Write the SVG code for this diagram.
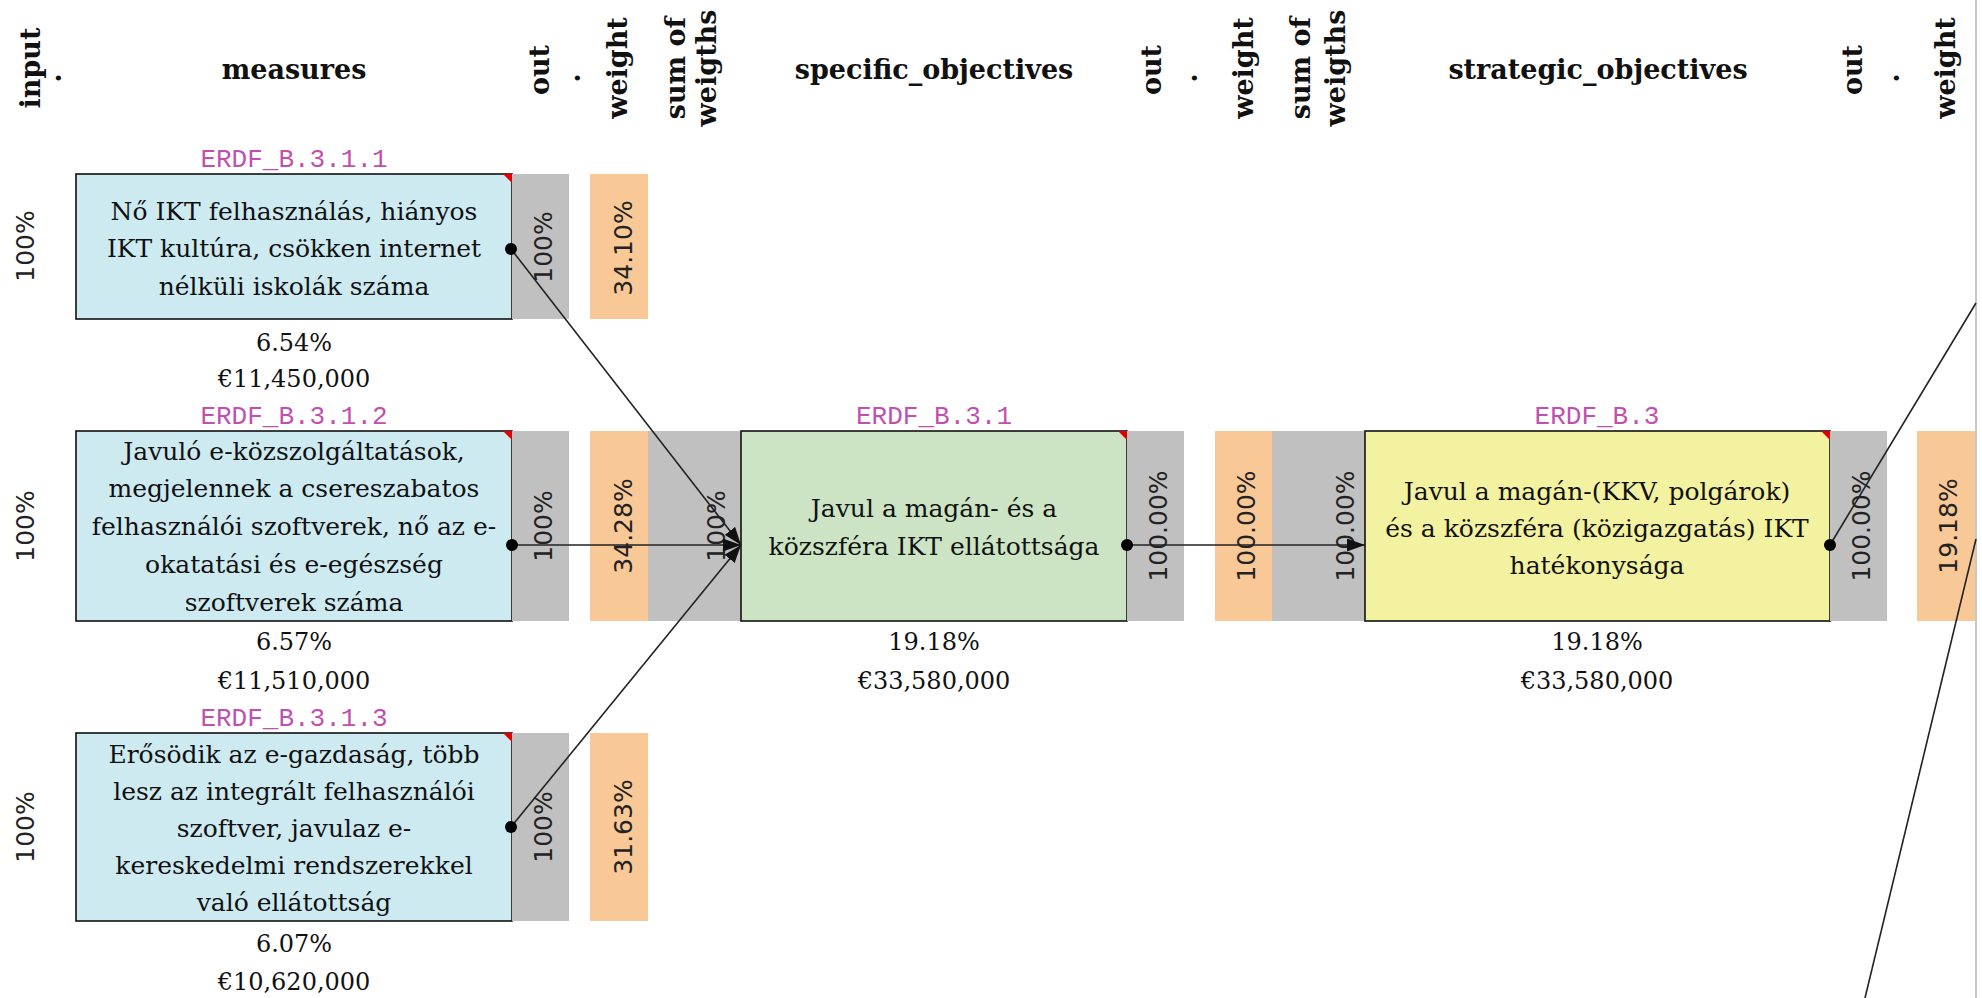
<svg xmlns="http://www.w3.org/2000/svg" width="1982" height="998" viewBox="0 0 1982 998">
<style>
.hdr{font-family:"DejaVu Serif",serif;font-weight:bold;font-size:27px;fill:#111;text-anchor:middle}
.lbl{font-family:"Liberation Mono",monospace;font-size:26px;fill:#c050b0;text-anchor:middle}
.txt{font-family:"DejaVu Serif",serif;font-size:25px;fill:#111;text-anchor:middle}
.val{font-family:"DejaVu Serif",serif;font-size:24px;fill:#111;text-anchor:middle}
.pct{font-family:"DejaVu Sans",sans-serif;font-size:25px;fill:#222;text-anchor:middle}
.gray{fill:#c0c0c0}
.orange{fill:#f8c896}
.box{stroke:#111;stroke-width:1.6}
.blue{fill:#ceeaf1}
.green{fill:#cce4c4}
.yellow{fill:#f2f2a0}
.corner{fill:#e00000}
.conn{stroke:#222;stroke-width:1.6;fill:none}
</style>
<defs>
<marker id="arr" viewBox="0 0 18 13" refX="18" refY="6.5" markerWidth="18" markerHeight="13" markerUnits="userSpaceOnUse" orient="auto">
<path d="M0,0 L18,6.5 L0,13 z" fill="#111"/>
</marker>
</defs>
<rect width="1982" height="998" fill="#ffffff"/>
<line x1="1976" y1="0" x2="1976" y2="998" stroke="#c8c8c8" stroke-width="2"/>

<g id="headers">
<text class="hdr" transform="translate(40,68) rotate(-90)">input</text>
<text class="hdr" transform="translate(61,78) rotate(-90)">.</text>
<text class="hdr" x="294" y="79">measures</text>
<text class="hdr" transform="translate(549,70) rotate(-90)">out</text>
<text class="hdr" transform="translate(580,78) rotate(-90)">.</text>
<text class="hdr" transform="translate(627,68) rotate(-90)">weight</text>
<text class="hdr" transform="translate(685,68) rotate(-90)">sum of</text>
<text class="hdr" transform="translate(716,68) rotate(-90)">weigths</text>
<text class="hdr" x="934" y="79">specific_objectives</text>
<text class="hdr" transform="translate(1161,70) rotate(-90)">out</text>
<text class="hdr" transform="translate(1197,78) rotate(-90)">.</text>
<text class="hdr" transform="translate(1253,68) rotate(-90)">weight</text>
<text class="hdr" transform="translate(1310,68) rotate(-90)">sum of</text>
<text class="hdr" transform="translate(1345,68) rotate(-90)">weigths</text>
<text class="hdr" x="1598" y="79">strategic_objectives</text>
<text class="hdr" transform="translate(1862,70) rotate(-90)">out</text>
<text class="hdr" transform="translate(1899,78) rotate(-90)">.</text>
<text class="hdr" transform="translate(1955,68) rotate(-90)">weight</text>
</g>

<g id="ERDF_B.3.1.1">
<text class="pct" transform="translate(34,246) rotate(-90)">100%</text>
<text class="lbl" x="294" y="167">ERDF_B.3.1.1</text>
<rect class="box blue" x="76" y="174" width="436" height="145"/>
<polygon class="corner" points="503,174 512,174 512,183"/>
<text class="txt" x="294" y="220">Nő IKT felhasználás, hiányos</text>
<text class="txt" x="294" y="257">IKT kultúra, csökken internet</text>
<text class="txt" x="294" y="295">nélküli iskolák száma</text>
<text class="val" x="294" y="351">6.54%</text>
<text class="val" x="294" y="387">€11,450,000</text>
<rect class="gray" x="512" y="174" width="57" height="145"/>
<text class="pct" transform="translate(552,247) rotate(-90)">100%</text>
<rect class="orange" x="590" y="174" width="58" height="145"/>
<text class="pct" transform="translate(632,248) rotate(-90)">34.10%</text>
</g>

<g id="ERDF_B.3.1.2">
<text class="pct" transform="translate(34,526) rotate(-90)">100%</text>
<text class="lbl" x="294" y="424">ERDF_B.3.1.2</text>
<rect class="box blue" x="76" y="431" width="436" height="190"/>
<polygon class="corner" points="503,431 512,431 512,440"/>
<text class="txt" x="294" y="460">Javuló e-közszolgáltatások,</text>
<text class="txt" x="294" y="497">megjelennek a csereszabatos</text>
<text class="txt" x="294" y="535">felhasználói szoftverek, nő az e-</text>
<text class="txt" x="294" y="573">okatatási és e-egészség</text>
<text class="txt" x="294" y="611">szoftverek száma</text>
<text class="val" x="294" y="650">6.57%</text>
<text class="val" x="294" y="689">€11,510,000</text>
<rect class="gray" x="512" y="431" width="57" height="190"/>
<text class="pct" transform="translate(552,526) rotate(-90)">100%</text>
<rect class="orange" x="590" y="431" width="58" height="190"/>
<text class="pct" transform="translate(632,526) rotate(-90)">34.28%</text>
</g>

<g id="ERDF_B.3.1.3">
<text class="pct" transform="translate(34,827) rotate(-90)">100%</text>
<text class="lbl" x="294" y="726">ERDF_B.3.1.3</text>
<rect class="box blue" x="76" y="733" width="436" height="188"/>
<polygon class="corner" points="503,733 512,733 512,742"/>
<text class="txt" x="294" y="763">Erősödik az e-gazdaság, több</text>
<text class="txt" x="294" y="800">lesz az integrált felhasználói</text>
<text class="txt" x="294" y="837">szoftver, javulaz e-</text>
<text class="txt" x="294" y="874">kereskedelmi rendszerekkel</text>
<text class="txt" x="294" y="911">való ellátottság</text>
<text class="val" x="294" y="952">6.07%</text>
<text class="val" x="294" y="990">€10,620,000</text>
<rect class="gray" x="512" y="733" width="57" height="188"/>
<text class="pct" transform="translate(552,827) rotate(-90)">100%</text>
<rect class="orange" x="590" y="733" width="58" height="188"/>
<text class="pct" transform="translate(632,827) rotate(-90)">31.63%</text>
</g>

<g id="ERDF_B.3.1">
<rect class="gray" x="648" y="431" width="93" height="190"/>
<text class="pct" transform="translate(725,526) rotate(-90)">100%</text>
<text class="lbl" x="934" y="424">ERDF_B.3.1</text>
<rect class="box green" x="741" y="431" width="386" height="190"/>
<polygon class="corner" points="1118,431 1127,431 1127,440"/>
<text class="txt" x="934" y="517">Javul a magán- és a</text>
<text class="txt" x="934" y="555">közszféra IKT ellátottsága</text>
<text class="val" x="934" y="650">19.18%</text>
<text class="val" x="934" y="689">€33,580,000</text>
<rect class="gray" x="1127" y="431" width="57" height="190"/>
<text class="pct" transform="translate(1167,526) rotate(-90)">100.00%</text>
<rect class="orange" x="1215" y="431" width="57" height="190"/>
<text class="pct" transform="translate(1255,526) rotate(-90)">100.00%</text>
</g>

<g id="ERDF_B.3">
<rect class="gray" x="1272" y="431" width="93" height="190"/>
<text class="pct" transform="translate(1354,526) rotate(-90)">100.00%</text>
<text class="lbl" x="1597" y="424">ERDF_B.3</text>
<rect class="box yellow" x="1365" y="431" width="465" height="190"/>
<polygon class="corner" points="1821,431 1830,431 1830,440"/>
<text class="txt" x="1597" y="500">Javul a magán-(KKV, polgárok)</text>
<text class="txt" x="1597" y="537">és a közszféra (közigazgatás) IKT</text>
<text class="txt" x="1597" y="574">hatékonysága</text>
<text class="val" x="1597" y="650">19.18%</text>
<text class="val" x="1597" y="689">€33,580,000</text>
<rect class="gray" x="1830" y="431" width="57" height="190"/>
<text class="pct" transform="translate(1870,526) rotate(-90)">100.00%</text>
<rect class="orange" x="1917" y="431" width="58" height="190"/>
<text class="pct" transform="translate(1957,526) rotate(-90)">19.18%</text>
</g>

<g id="connectors">
<line class="conn" x1="511" y1="249" x2="741" y2="545" marker-end="url(#arr)"/>
<line class="conn" x1="512" y1="545" x2="741" y2="545" marker-end="url(#arr)"/>
<line class="conn" x1="511" y1="827" x2="741" y2="545" marker-end="url(#arr)"/>
<line class="conn" x1="1127" y1="545" x2="1365" y2="545" marker-end="url(#arr)"/>
<line class="conn" x1="1830" y1="545" x2="1976" y2="303"/>
<line class="conn" x1="1976" y1="539" x2="1865" y2="998"/>
<circle cx="511" cy="249" r="6" fill="#000"/>
<circle cx="512" cy="545" r="6" fill="#000"/>
<circle cx="511" cy="827" r="6" fill="#000"/>
<circle cx="1127" cy="545" r="6" fill="#000"/>
<circle cx="1830" cy="545" r="6" fill="#000"/>
</g>
</svg>
